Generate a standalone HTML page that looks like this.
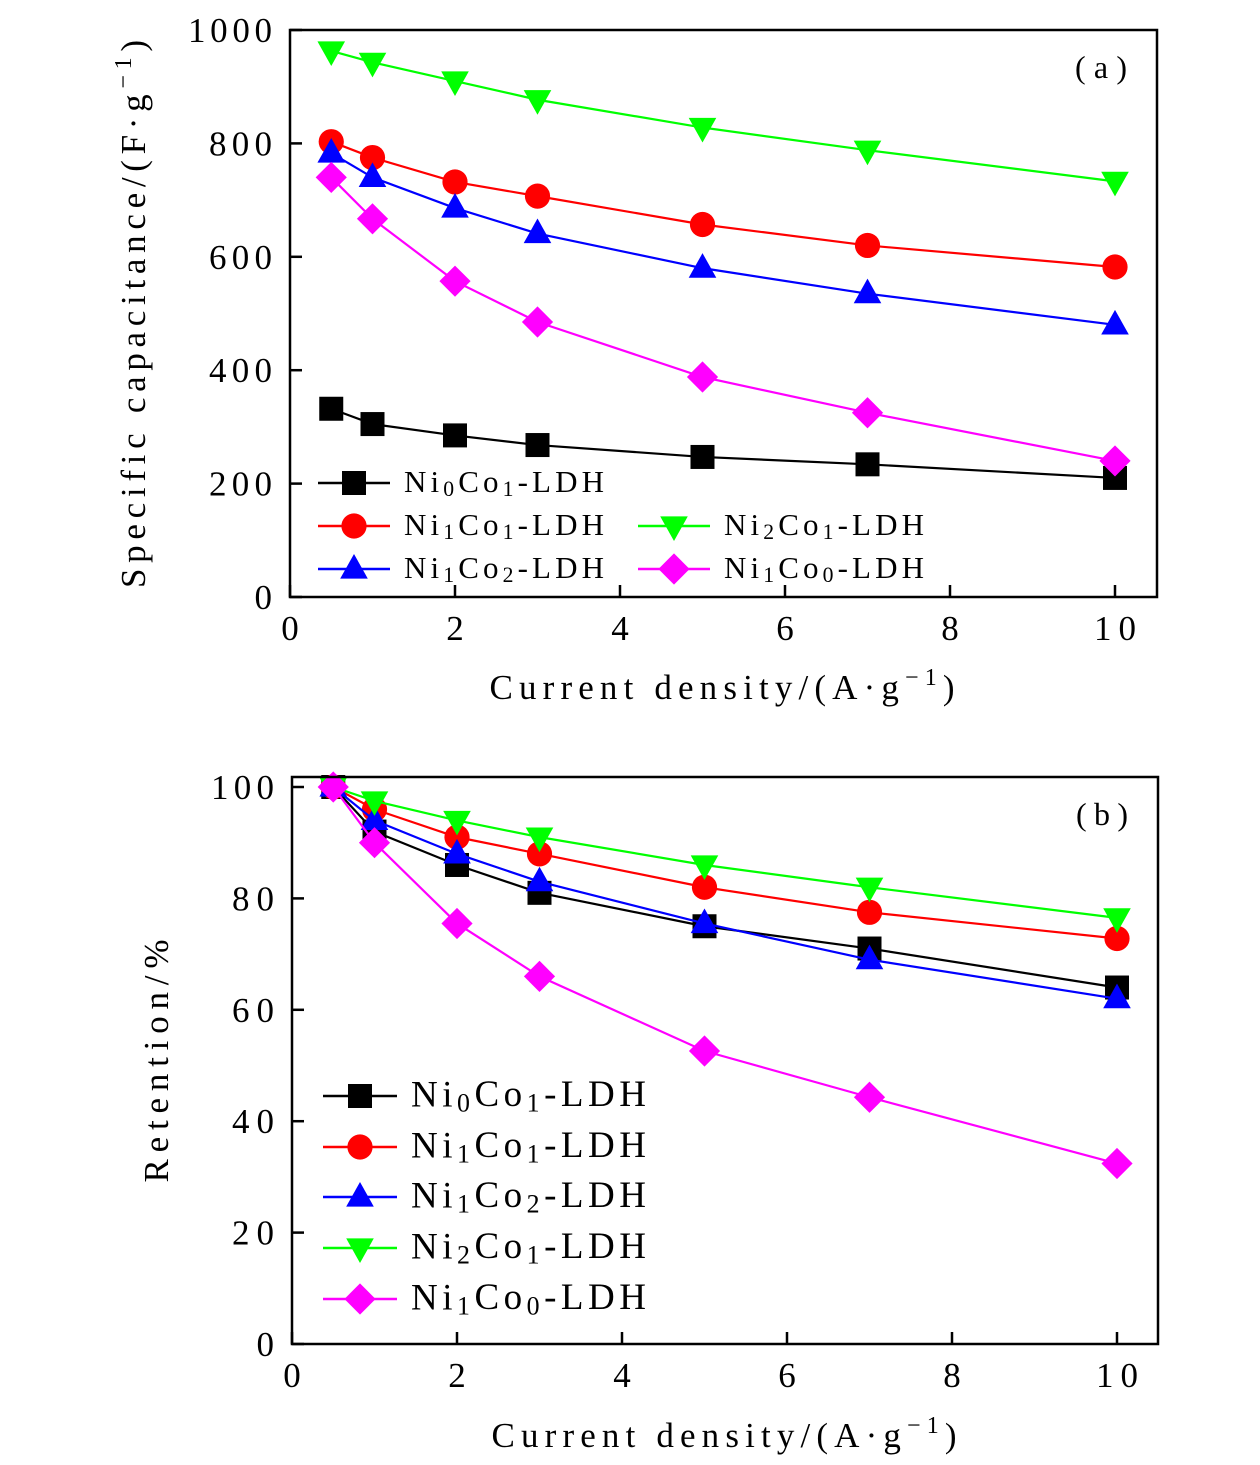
<!DOCTYPE html>
<html><head><meta charset="utf-8"><style>
html,body{margin:0;padding:0;background:#fff;}
svg{display:block;font-family:"Liberation Serif",serif;}
</style></head><body>
<svg id="chart" width="1260" height="1465" viewBox="0 0 1260 1465" xmlns="http://www.w3.org/2000/svg"></svg>
<script>
const xValues = [0.5, 1, 2, 3, 5, 7, 10];
const seriesNames = ["Ni0Co1", "Ni1Co1", "Ni1Co2", "Ni2Co1", "Ni1Co0"];
const capNi0Co1 = [332, 305, 285, 268, 247, 234, 210];
const capNi1Co1 = [803, 775, 732, 707, 657, 620, 582];
const capNi1Co2 = [783, 740, 686, 641, 580, 535, 480];
const capNi2Co1 = [963, 943, 910, 877, 828, 788, 733];
const capNi1Co0 = [740, 667, 557, 485, 388, 325, 240];
const retNi0Co1 = [100, 92, 86, 81, 75, 71, 64];
const retNi1Co1 = [100, 96, 91, 88, 82, 77.5, 72.8];
const retNi1Co2 = [100, 94, 88, 83, 75.5, 69, 62];
const retNi2Co1 = [100, 97.5, 94, 91, 86, 82, 76.5];
const retNi1Co0 = [100, 90, 75.5, 66, 52.6, 44.3, 32.4];
const xTicks = [0, 2, 4, 6, 8, 10];
const capTicks = [0, 200, 400, 600, 800, 1000];
const retTicks = [0, 20, 40, 60, 80, 100];

const NS = "http://www.w3.org/2000/svg";
const svg = document.getElementById("chart");
const colors = ["#000", "#f00", "#00f", "#0f0", "#f0f"];
const shapes = ["square", "circle", "up", "down", "diamond"];
const subs = [["0","1"],["1","1"],["1","2"],["2","1"],["1","0"]];

function mk(tag, attrs, parent) {
  const e = document.createElementNS(NS, tag);
  for (const k in attrs) e.setAttribute(k, attrs[k]);
  (parent || svg).appendChild(e);
  return e;
}
function marker(g, shape, cx, cy, color, s) {
  let e;
  if (shape === "square") e = mk("rect", {x: cx - s, y: cy - s, width: 2 * s, height: 2 * s, fill: color}, g);
  else if (shape === "circle") e = mk("circle", {cx: cx, cy: cy, r: s * 1.05, fill: color}, g);
  else if (shape === "up") e = mk("polygon", {points: `${cx},${cy - s * 1.25} ${cx - s * 1.15},${cy + s * 0.8} ${cx + s * 1.15},${cy + s * 0.8}`, fill: color}, g);
  else if (shape === "down") e = mk("polygon", {points: `${cx},${cy + s * 1.25} ${cx - s * 1.15},${cy - s * 0.8} ${cx + s * 1.15},${cy - s * 0.8}`, fill: color}, g);
  else e = mk("polygon", {points: `${cx},${cy - s * 1.3} ${cx + s * 1.3},${cy} ${cx},${cy + s * 1.3} ${cx - s * 1.3},${cy}`, fill: color}, g);
  
  
}
function labelText(g, x, y, i, fs, len) {
  const t = mk("text", {x: x, y: y, "font-size": fs, "dominant-baseline": "middle", textLength: len, lengthAdjust: "spacing"}, g);
  t.innerHTML = `Ni<tspan font-size="${fs * 0.7}" dy="${fs * 0.2}">${subs[i][0]}</tspan><tspan dy="${-fs * 0.2}">Co</tspan><tspan font-size="${fs * 0.7}" dy="${fs * 0.2}">${subs[i][1]}</tspan><tspan dy="${-fs * 0.2}">-LDH</tspan>`;
  
  
}

function panel(cfg) {
  const g = mk("g", {});
  
  
  const xs = v => cfg.x0 + v * cfg.kx;
  const ys = v => cfg.y0 - v * cfg.ky;
  cfg.data.forEach((arr, i) => {
    const pts = arr.map((v, j) => `${xs(xValues[j])},${ys(v)}`).join(" ");
    const l = mk("polyline", {points: pts, fill: "none", stroke: colors[i], "stroke-width": 2.2}, g);
    
    
    arr.forEach((v, j) => marker(g, shapes[i], xs(xValues[j]), ys(v), colors[i], cfg.ms));
  });
  const f = mk("rect", {x: cfg.left, y: cfg.top, width: cfg.right - cfg.left, height: cfg.y0 - cfg.top, fill: "none", stroke: "#000", "stroke-width": 2.5}, g);
  
  
  xTicks.forEach(v => {
    const tk = mk("line", {x1: xs(v), x2: xs(v), y1: cfg.y0, y2: cfg.y0 - 12, stroke: "#000", "stroke-width": 2.5}, g);
    
    
    const s = String(v);
    const t = mk("text", {x: xs(v), y: cfg.y0 + 43, "font-size": cfg.fs, "text-anchor": "middle", textLength: s.length * 21, lengthAdjust: "spacing"}, g);
    t.textContent = s;
    
    
  });
  cfg.yt.forEach(v => {
    const tk = mk("line", {x1: cfg.left, x2: cfg.left + 12, y1: ys(v), y2: ys(v), stroke: "#000", "stroke-width": 2.5}, g);
    
    
    const s = String(v);
    const t = mk("text", {x: cfg.left - 18, y: ys(v) + 12, "font-size": cfg.fs, "text-anchor": "end", textLength: s.length * 21, lengthAdjust: "spacing"}, g);
    t.textContent = s;
    
    
  });
  const xl = mk("text", {x: cfg.xlx, y: cfg.xly, "font-size": cfg.fs, "text-anchor": "middle", textLength: 465, lengthAdjust: "spacing"}, g);
  xl.innerHTML = 'Current density/(A·g<tspan font-size="24" dy="-14">−1</tspan><tspan dy="14">)</tspan>';
  
  
  const yl = mk("text", {x: 0, y: 0, "font-size": cfg.fs, "text-anchor": "middle", textLength: cfg.ylen, lengthAdjust: "spacing", transform: `translate(${cfg.ylx},${cfg.yly}) rotate(-90)`}, g);
  yl.innerHTML = cfg.ytitle;
  
  
  const pl = mk("text", {x: cfg.right - 30, y: cfg.top + 48, "font-size": 32, "text-anchor": "end", textLength: 52, lengthAdjust: "spacing"}, g);
  pl.textContent = cfg.panelLabel;
  
  
  cfg.legend.forEach(([i, lx, ly]) => {
    const lg = mk("g", {}, g);
    
    
    const ll = mk("line", {x1: lx, x2: lx + cfg.ll, y1: ly, y2: ly, stroke: colors[i], "stroke-width": 2.5}, lg);
    
    
    marker(lg, shapes[i], lx + cfg.ll / 2, ly, colors[i], cfg.ms);
    labelText(lg, lx + cfg.ll + 14, ly + 2, i, cfg.lfs, cfg.llen);
  });
}

panel({name: "panel-a-capacitance", x0: 290, kx: 82.5, y0: 597, ky: 0.567, left: 290, right: 1157, top: 30,
  data: [capNi0Co1, capNi1Co1, capNi1Co2, capNi2Co1, capNi1Co0], yt: capTicks, fs: 35, ms: 12,
  xlx: 722, xly: 699, ylx: 145, yly: 314, ylen: 548, panelLabel: "(a)",
  ytitle: 'Specific capacitance/(F·g<tspan font-size="24" dy="-14">−1</tspan><tspan dy="14">)</tspan>',
  ll: 72, lfs: 31, llen: 200,
  legend: [[0, 318, 483], [1, 318, 526], [2, 318, 569], [3, 638, 526], [4, 638, 569]]});

panel({name: "panel-b-retention", x0: 292, kx: 82.5, y0: 1344, ky: 5.57, left: 292, right: 1158, top: 777,
  data: [retNi0Co1, retNi1Co1, retNi1Co2, retNi2Co1, retNi1Co0], yt: retTicks, fs: 35, ms: 12,
  xlx: 724, xly: 1447, ylx: 168, yly: 1061, ylen: 243, panelLabel: "(b)",
  ytitle: 'Retention/%',
  ll: 74, lfs: 37, llen: 235,
  legend: [[0, 323, 1096], [1, 323, 1147], [2, 323, 1197], [3, 323, 1248], [4, 323, 1299]]});
</script>
</body></html>
